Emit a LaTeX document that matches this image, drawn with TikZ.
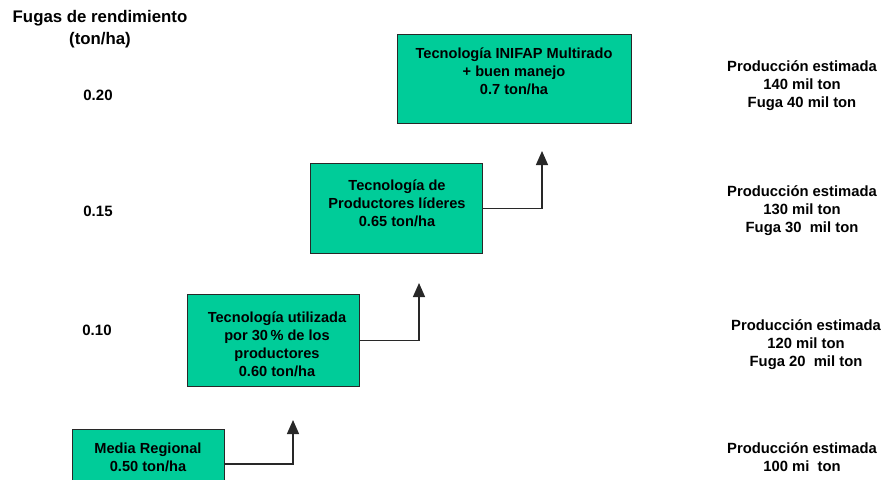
\documentclass[tikz,border=0pt]{standalone}
\usepackage{fontspec}
\setmainfont{Liberation Sans}
\usetikzlibrary{arrows.meta}
\definecolor{boxgreen}{RGB}{0,204,153}
\definecolor{edge}{RGB}{40,40,40}
\tikzset{
  stagebox/.style={draw=edge, line width=1.3pt, fill=boxgreen, inner sep=0pt, anchor=north west},
  txt/.style={align=center, inner sep=0pt, font=\bfseries\fontsize{14.6}{18}\selectfont},
  rtxt/.style={align=center, inner sep=0pt, font=\bfseries\fontsize{14.8}{18}\selectfont},
  ttl/.style={align=center, inner sep=0pt, font=\bfseries\fontsize{16.8}{22}\selectfont},
  val/.style={inner sep=0pt, font=\bfseries\fontsize{15}{18}\selectfont},
  arr/.style={draw=edge, line width=1.3pt, -{Triangle[width=12pt,length=14pt]}}
}
\begin{document}
\begin{tikzpicture}[x=1pt,y=-1pt]
\clip (0,0) rectangle (885,479);
\fill[white] (0,0) rectangle (885,479);
% title and values
\node[ttl] (title) at (100,29) {Fugas de rendimiento\\(ton/ha)};
\node[val] (v20) at (98,95) {0.20};
\node[val] (v15) at (98,211) {0.15};
\node[val] (v10) at (97,330) {0.10};
% boxes
\node[stagebox, minimum width=152pt, minimum height=60pt] (b1) at (72,429) {};
\node[stagebox, minimum width=172pt, minimum height=92pt] (b2) at (187,294) {};
\node[stagebox, minimum width=172pt, minimum height=90pt] (b3) at (310,163) {};
\node[stagebox, minimum width=234pt, minimum height=89pt] (b4) at (397,34) {};
% box texts
\node[txt] (t1) at (148,457.5) {Media Regional\\0.50 ton/ha};
\node[txt] (t2) at (277,344) {Tecnología utilizada\\por 30\,\% de los\\productores\\0.60 ton/ha};
\node[txt] (t3) at (397,203.5) {Tecnología de\\Productores líderes\\0.65 ton/ha};
\node[txt] (t4) at (514,71.5) {Tecnología INIFAP Multirado\\+ buen manejo\\0.7 ton/ha};
% arrow tips
\coordinate (a1) at (293,420);
\coordinate (a2) at (419,283);
\coordinate (a3) at (542,151);
\draw[arr] (b1.north east |- 0,464) -| (a1);
\draw[arr] (b2.east) -| (a2);
\draw[arr] (b3.east) -| (a3);
% right labels
\node[rtxt] (r4) at (802,86) {Producción estimada\\140 mil ton\\Fuga 40 mil ton};
\node[rtxt] (r3) at (802,211) {Producción estimada\\130 mil ton\\Fuga 30~ mil ton};
\node[rtxt] (r2) at (806,345) {Producción estimada\\120 mil ton\\Fuga 20~ mil ton};
\node[rtxt] (r1) at (802,457.5) {Producción estimada\\100 mi~ ton};
\end{tikzpicture}
\end{document}
